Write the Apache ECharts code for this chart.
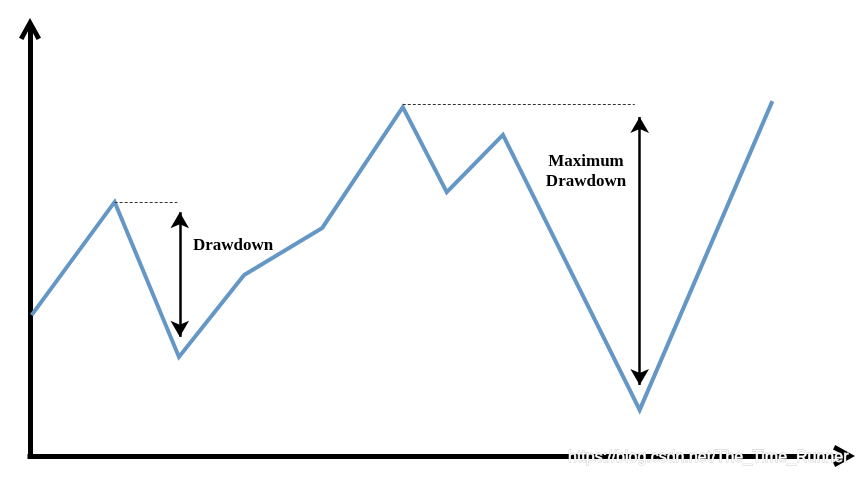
<!DOCTYPE html>
<html>
<head>
<meta charset="utf-8">
<script src="https://cdn.jsdelivr.net/npm/echarts@6/dist/echarts.min.js"></script>
<style>html,body{margin:0;padding:0;background:#fff;}#c{width:858px;height:478px;}</style>
</head>
<body>
<div id="c"></div>
<script>
// Time index and value of the price path
const timeIdx = [0.2, 10.4, 18.3, 26.3, 35.9, 45.8, 51.2, 58.1, 74.9, 91.2];
const values  = [33.0, 59.5, 23.2, 42.4, 53.4, 81.7, 61.8, 75.2, 10.8, 83.1];
// Peak reference (dashed) lines: [xStart, xEnd, level]
const peak1 = [10.4, 18.1, 59.5];
const peak2 = [45.8, 74.3, 82.4];
// Drawdown arrows: [x, yTop, yBottom]
const dd1 = [18.4, 57.1, 27.9];
const dd2 = [74.9, 79.4, 16.6];
const labels = ['Drawdown', 'Maximum\nDrawdown'];
const watermark = 'https://blog.csdn.net/The_Time_Runner';

const chart = echarts.init(document.getElementById('c'));
const chevron = 'path://M0,9 L5,0 L10,9 L8,10 L5,4.2 L2,10 Z';
const axisCommon = {
  type: 'value', min: 0, max: 100,
  axisLabel: {show: false}, axisTick: {show: false}, splitLine: {show: false},
  axisLine: {show: true, onZero: false, symbol: ['none', chevron], symbolSize: [22, 22],
    lineStyle: {color: '#000', width: 5, cap: 'square'}}
};
chart.setOption({
  animation: false,
  backgroundColor: '#fff',
  grid: {left: 30, right: 14, top: 29, bottom: 22},
  xAxis: axisCommon,
  yAxis: axisCommon,
  series: [
    {
      type: 'line', data: timeIdx.map((x, i) => [x, values[i]]),
      symbol: 'none', lineStyle: {color: '#6497c6', width: 4, join: 'miter'}, z: 3
    },
    {
      type: 'line', data: [], silent: true,
      markLine: {
        silent: true, symbol: ['none', 'none'], label: {show: false},
        lineStyle: {color: '#333', width: 1, type: [3, 2]},
        data: [
          [{coord: [peak1[0], peak1[2]]}, {coord: [peak1[1], peak1[2]]}],
          [{coord: [peak2[0], peak2[2]]}, {coord: [peak2[1], peak2[2]]}]
        ]
      }
    },
    {
      type: 'line', data: [], silent: true,
      markLine: {
        silent: true, symbol: ['arrow', 'arrow'], symbolSize: [14, 16], label: {show: false},
        lineStyle: {color: '#000', width: 2.5, type: 'solid'},
        data: [
          [{coord: [dd1[0], dd1[1]]}, {coord: [dd1[0], dd1[2]]}],
          [{coord: [dd2[0], dd2[1]]}, {coord: [dd2[0], dd2[2]]}]
        ]
      }
    }
  ],
  graphic: [
    {type: 'text', left: 193, top: 237, z: 10,
      style: {text: labels[0], font: 'bold 17px "Liberation Serif", serif', fill: '#000'}},
    {type: 'text', x: 586, y: 152, z: 10,
      style: {text: labels[1], font: 'bold 17px "Liberation Serif", serif', fill: '#000',
        align: 'center', lineHeight: 20}},
    {type: 'text', x: 568, y: 466, z: 10,
      style: {text: watermark, font: '16px "Liberation Sans", sans-serif', fill: '#fff',
        verticalAlign: 'bottom', stroke: '#c8c8c8', lineWidth: 0.8}}
  ]
});
</script>
</body>
</html>
